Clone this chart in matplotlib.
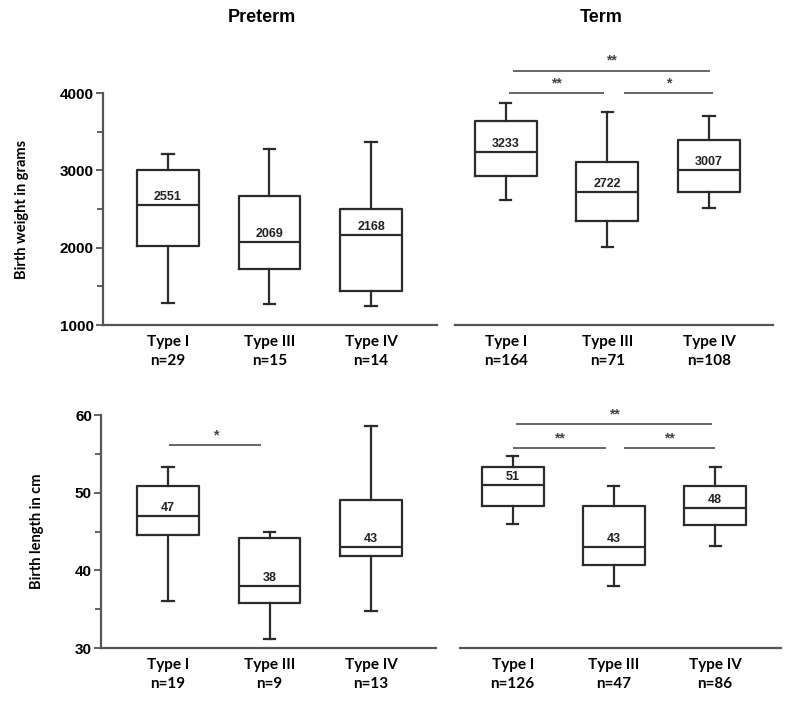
import matplotlib
matplotlib.use('Agg')
import matplotlib.pyplot as plt
from matplotlib.ticker import MultipleLocator

categories = ['Type I', 'Type III', 'Type IV']

# Preterm birth weight (g)
pre_w_lo = [1288, 1271, 1245]
pre_w_q1 = [2023, 1723, 1443]
pre_w_med = [2551, 2069, 2168]
pre_w_q3 = [3009, 2668, 2506]
pre_w_hi = [3206, 3271, 3365]
pre_w_n = [29, 15, 14]

# Term birth weight (g)
term_w_lo = [2622, 2010, 2514]
term_w_q1 = [2923, 2342, 2720]
term_w_med = [3233, 2722, 3007]
term_w_q3 = [3632, 3112, 3396]
term_w_hi = [3874, 3752, 3706]
term_w_n = [164, 71, 108]

# Preterm birth length (cm)
pre_l_lo = [36.0, 31.2, 34.7]
pre_l_q1 = [44.5, 35.8, 41.9]
pre_l_med = [47, 38, 43]
pre_l_q3 = [50.8, 44.1, 49.0]
pre_l_hi = [53.3, 45.0, 58.6]
pre_l_n = [19, 9, 13]

# Term birth length (cm)
term_l_lo = [46.0, 38.0, 43.1]
term_l_q1 = [48.3, 40.7, 45.8]
term_l_med = [51, 43, 48]
term_l_q3 = [53.3, 48.3, 50.9]
term_l_hi = [54.7, 50.9, 53.3]
term_l_n = [126, 47, 86]

# significance brackets: (from, to, level, label)
sig_term_w = [(1.07, 3.01, 4290, '**'), (1.03, 1.97, 3997, '**'), (2.16, 3.04, 3997, '*')]
sig_pre_l = [(1.01, 1.92, 56.1, '*')]
sig_term_l = [(1.03, 2.97, 58.8, '**'), (1.00, 1.92, 55.7, '**'), (2.10, 3.00, 55.7, '**')]

LABEL_FONT = ['Lato', 'DejaVu Sans']
NUM_FONT = ['Liberation Sans', 'DejaVu Sans']
BOX_C = '#2b2b2b'
AX_C = '#555555'

W, H = 792, 702
fig = plt.figure(figsize=(W / 100, H / 100), dpi=100)


def px_axes(l, r, b, t):
    return fig.add_axes([l / W, 1 - b / H, (r - l) / W, (b - t) / H])


def panel(ax, lo, q1, med, q3, hi, ns, ylim, xlim, show_y, major, minor, sigs, ylabel=None):
    stats = []
    for i in range(len(categories)):
        stats.append(dict(whislo=lo[i], q1=q1[i], med=med[i], q3=q3[i],
                          whishi=hi[i], fliers=[]))
    lp = dict(color=BOX_C, linewidth=1.6)
    ax.bxp(stats, positions=[1, 2, 3], widths=0.61, showfliers=False,
           capwidths=0.11, boxprops=lp, whiskerprops=lp, capprops=lp,
           medianprops=lp)
    for i, m in enumerate(med):
        ax.annotate(f'{m}', xy=(i + 1, m), xytext=(0, 1.5),
                    textcoords='offset points', ha='center', va='bottom',
                    fontsize=9, fontweight='bold', color='#222222',
                    family=NUM_FONT)
    ax.set_xlim(*xlim)
    ax.set_ylim(*ylim)
    ax.set_xticks([1, 2, 3])
    ax.set_xticklabels([f'{c}\nn={n}' for c, n in zip(categories, ns)],
                       fontsize=11, fontweight='bold', family=LABEL_FONT,
                       linespacing=1.5)
    ax.tick_params(axis='x', length=0, pad=7)
    for s in ('top', 'right'):
        ax.spines[s].set_visible(False)
    ax.spines['bottom'].set_color(AX_C)
    ax.spines['bottom'].set_linewidth(1.6)
    if show_y:
        ax.spines['left'].set_color(AX_C)
        ax.spines['left'].set_linewidth(1.6)
        ax.yaxis.set_major_locator(MultipleLocator(major))
        ax.yaxis.set_minor_locator(MultipleLocator(minor))
        ax.tick_params(axis='y', which='major', length=5, width=1.3,
                       color=AX_C, pad=1.5, labelsize=11)
        ax.tick_params(axis='y', which='minor', length=4, width=1.3,
                       color=AX_C)
        for lab in ax.get_yticklabels():
            lab.set_fontweight('bold')
            lab.set_family(NUM_FONT)
        if ylabel:
            ax.set_ylabel(ylabel, fontsize=10.5, fontweight='bold',
                          family=LABEL_FONT, labelpad=22)
    else:
        ax.spines['left'].set_visible(False)
        ax.set_yticks([])
    for x1, x2, y, lab in sigs:
        ax.plot([x1, x2], [y, y], color='#666666', lw=1.4, clip_on=False,
                solid_capstyle='butt')
        ax.annotate(lab, xy=((x1 + x2) / 2, y), xytext=(0, 2),
                    textcoords='offset points', ha='center', va='bottom',
                    fontsize=10, fontweight='bold', color='#444444',
                    family=NUM_FONT, annotation_clip=False)


ax1 = px_axes(103, 437, 325, 93)
panel(ax1, pre_w_lo, pre_w_q1, pre_w_med, pre_w_q3, pre_w_hi, pre_w_n,
      (1000, 4000), (0.36, 3.65), True, 1000, 500, [],
      ylabel='Birth weight in grams')
ax2 = px_axes(455, 773, 325, 93)
panel(ax2, term_w_lo, term_w_q1, term_w_med, term_w_q3, term_w_hi, term_w_n,
      (1000, 4000), (0.50, 3.63), False, 1000, 500, sig_term_w)
ax3 = px_axes(101, 436, 648, 415)
panel(ax3, pre_l_lo, pre_l_q1, pre_l_med, pre_l_q3, pre_l_hi, pre_l_n,
      (30, 60), (0.34, 3.64), True, 10, 5, sig_pre_l,
      ylabel='Birth length in cm')
ax4 = px_axes(460, 781, 648, 415)
panel(ax4, term_l_lo, term_l_q1, term_l_med, term_l_q3, term_l_hi, term_l_n,
      (30, 60), (0.48, 3.65), False, 10, 5, sig_term_l)

fig.text(262 / W, 1 - 18 / H, 'Preterm', ha='center', va='center',
         fontsize=13, fontweight='bold', family=NUM_FONT)
fig.text(601 / W, 1 - 18 / H, 'Term', ha='center', va='center',
         fontsize=13, fontweight='bold', family=NUM_FONT)

fig.savefig('out.png', dpi=100)
